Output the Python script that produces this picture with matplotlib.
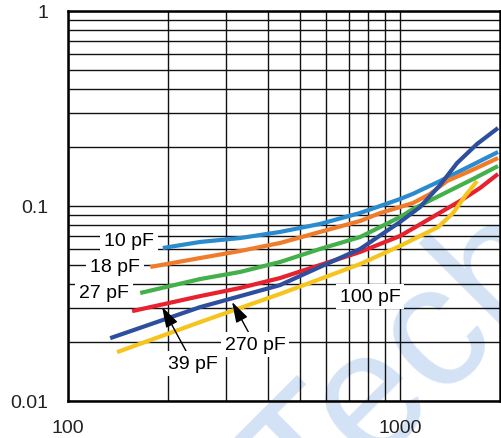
import numpy as np
import matplotlib.pyplot as plt
from matplotlib.ticker import FixedLocator, FixedFormatter, NullFormatter

plt.rcParams['font.family'] = ['Liberation Sans', 'DejaVu Sans']

# curves (frequency, value) per load capacitance
freq_10pf = [193, 250, 330, 435, 574, 758, 871, 1000, 1094, 1320, 1625, 1973]
val_10pf = [0.0609, 0.0654, 0.0685, 0.0736, 0.0809, 0.0921, 0.100, 0.1086, 0.1155, 0.1343, 0.1603, 0.1892]

freq_18pf = [177, 250, 330, 435, 574, 758, 871, 1000, 1094, 1231, 1385, 1625, 1973]
val_18pf = [0.0487, 0.0541, 0.0588, 0.0646, 0.0736, 0.0838, 0.092, 0.0988, 0.1036, 0.1152, 0.1343, 0.1512, 0.1762]

freq_27pf = [165, 250, 330, 435, 574, 758, 871, 1000, 1094, 1385, 1660, 1973]
val_27pf = [0.0358, 0.0422, 0.0459, 0.0516, 0.0602, 0.0693, 0.078, 0.0878, 0.0965, 0.118, 0.1376, 0.1603]

freq_39pf = [134, 250, 330, 435, 574, 758, 1000, 1149, 1320, 1485, 1706, 1973]
val_39pf = [0.021, 0.0303, 0.0345, 0.0393, 0.0487, 0.0602, 0.0828, 0.0988, 0.1281, 0.1661, 0.208, 0.2512]

freq_100pf = [156, 250, 330, 435, 574, 758, 1000, 1149, 1320, 1516, 1742, 1973]
val_100pf = [0.0289, 0.0345, 0.038, 0.0427, 0.0498, 0.0581, 0.0702, 0.0805, 0.0925, 0.1061, 0.1237, 0.1459]

freq_270pf = [140.5, 250, 330, 435, 574, 758, 1000, 1302, 1444, 1570, 1706]
val_270pf = [0.0178, 0.0254, 0.030, 0.0354, 0.0422, 0.0504, 0.0624, 0.078, 0.092, 0.1125, 0.1343]

x_major = [100, 1000]
x_labels = ['100', '1000']
y_major = [0.01, 0.1, 1]
y_labels = ['0.01', '0.1', '1']

fig = plt.figure(figsize=(5.02, 4.39), dpi=100)
ax = fig.add_axes([68 / 502, 37 / 439, 432 / 502, 390 / 439])
ax.patch.set_alpha(0)

fig.text(0.81, 0.163, 'Tech', fontsize=125, color='#d3e2f5',
         rotation=45, ha='center', va='center', zorder=-1)

ax.set_xscale('log')
ax.set_yscale('log')
ax.set_xlim(100, 2000)
ax.set_ylim(0.01, 1)

x_minor = [k * 10 ** d for d in (2, 3) for k in range(2, 10) if k * 10 ** d < 2000]
y_minor = [k * 10.0 ** d for d in (-2, -1) for k in range(2, 10)]
ax.xaxis.set_major_locator(FixedLocator(x_major))
ax.xaxis.set_major_formatter(FixedFormatter(x_labels))
ax.xaxis.set_minor_locator(FixedLocator(x_minor))
ax.xaxis.set_minor_formatter(NullFormatter())
ax.yaxis.set_major_locator(FixedLocator(y_major))
ax.yaxis.set_major_formatter(FixedFormatter(y_labels))
ax.yaxis.set_minor_locator(FixedLocator(y_minor))
ax.yaxis.set_minor_formatter(NullFormatter())

ax.grid(True, which='both', color='#111111', lw=1.0)
ax.tick_params(which='both', length=0, labelsize=14, labelcolor='#222222')
ax.tick_params(axis='x', pad=13)
ax.tick_params(axis='y', pad=14)
for s in ax.spines.values():
    s.set_linewidth(1.8)
    s.set_color('black')

series = [
    (freq_10pf, val_10pf, '#2a8ccf'),
    (freq_18pf, val_18pf, '#ef7b2b'),
    (freq_27pf, val_27pf, '#43b04a'),
    (freq_100pf, val_100pf, '#e8212e'),
    (freq_39pf, val_39pf, '#2d4f9e'),
    (freq_270pf, val_270pf, '#f6c51d'),
]
for f, v, c in series:
    ax.plot(f, v, color=c, lw=3, solid_capstyle='butt', solid_joinstyle='round', zorder=4)

box = dict(fc='white', ec='none', boxstyle='square,pad=0.2')
ax.text(152.7, 0.0662, '10 pF', ha='center', va='center', fontsize=14, bbox=box, zorder=3)
ax.text(138.6, 0.0487, '18 pF', ha='center', va='center', fontsize=14, bbox=box, zorder=3)
ax.text(128.4, 0.0362, '27 pF', ha='center', va='center', fontsize=14, bbox=box, zorder=3)
ax.text(812, 0.0345, '100 pF', ha='center', va='center', fontsize=14, bbox=box, zorder=3)

arrow = dict(arrowstyle='-|>,head_length=0.9,head_width=0.28', color='black', lw=1.0,
             shrinkA=0, shrinkB=0)
ax.annotate('39 pF', xy=(192, 0.0304), xytext=(238, 0.0155), ha='center', va='center',
            fontsize=14, bbox=box, arrowprops=arrow, zorder=5)
ax.annotate('270 pF', xy=(312, 0.0322), xytext=(366, 0.0195), ha='center', va='center',
            fontsize=14, bbox=box, arrowprops=arrow, zorder=5)

fig.savefig('out.png', dpi=100)
